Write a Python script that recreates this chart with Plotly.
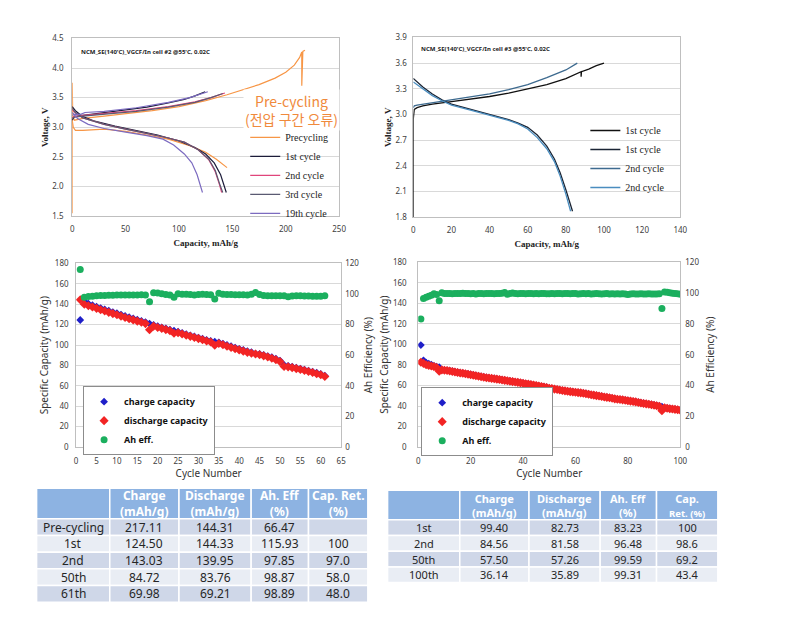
import plotly.graph_objects as go

W, H = 798, 622
def fx(p): return p / W
def fy(p): return 1 - p / H

# ---------------- Chart 1 data (cell #2, voltage profiles) ----------------
pre_chg_cap = [0, 0, 0.5, 2, 10, 30, 50, 75, 100, 125, 145, 160, 175, 190, 200, 208, 213, 215, 215, 216, 218]
pre_chg_v   = [1.55, 3.75, 3.2, 3.12, 3.15, 3.19, 3.23, 3.28, 3.35, 3.45, 3.55, 3.63, 3.72, 3.83, 3.93, 4.05, 4.18, 4.27, 3.7, 4.28, 4.3]
pre_dis_cap = [0, 1, 3, 10, 30, 50, 70, 90, 110, 125, 135, 145]
pre_dis_v   = [3.12, 3.0, 2.95, 2.95, 2.97, 2.93, 2.87, 2.8, 2.69, 2.58, 2.46, 2.32]
c1_chg_cap = [0, 2, 10, 30, 50, 70, 90, 105, 115, 124.5]
c1_chg_v   = [3.12, 3.18, 3.2, 3.25, 3.29, 3.34, 3.41, 3.47, 3.53, 3.6]
c1_dis_cap = [0, 3, 10, 20, 40, 60, 80, 100, 115, 125, 133, 139, 143, 144.3]
c1_dis_v   = [3.35, 3.28, 3.18, 3.11, 3.02, 2.95, 2.87, 2.77, 2.66, 2.55, 2.4, 2.2, 2.0, 1.9]
c2_chg_cap = [0, 2, 10, 30, 60, 90, 115, 130, 143]
c2_chg_v   = [3.16, 3.18, 3.2, 3.23, 3.28, 3.35, 3.43, 3.5, 3.58]
c2_dis_cap = [0, 3, 10, 30, 50, 70, 90, 105, 118, 128, 134, 138, 140]
c2_dis_v   = [3.3, 3.24, 3.16, 3.05, 2.97, 2.9, 2.82, 2.75, 2.62, 2.45, 2.25, 2.03, 1.9]
c3_chg_cap = [0, 2, 10, 30, 60, 90, 115, 130, 141]
c3_chg_v   = [3.15, 3.17, 3.19, 3.22, 3.27, 3.34, 3.42, 3.5, 3.57]
c3_dis_cap = [0, 3, 10, 30, 50, 70, 90, 105, 118, 128, 134, 138, 141]
c3_dis_v   = [3.32, 3.25, 3.16, 3.05, 2.97, 2.9, 2.82, 2.75, 2.62, 2.46, 2.27, 2.05, 1.9]
c19_chg_cap = [0, 2, 8, 12, 30, 60, 90, 110, 127]
c19_chg_v   = [3.2, 3.22, 3.22, 3.25, 3.27, 3.33, 3.42, 3.5, 3.6]
c19_dis_cap = [0, 5, 15, 30, 50, 70, 85, 95, 105, 112, 117, 120, 122]
c19_dis_v   = [3.25, 3.15, 3.05, 2.98, 2.92, 2.86, 2.8, 2.7, 2.55, 2.4, 2.2, 2.02, 1.9]

# ---------------- Chart 2 data (cell #3, voltage profiles) ----------------
a1_chg_cap = [0, 0, 0.5, 2, 5, 10, 20, 30, 40, 50, 60, 70, 80, 88, 88, 88.2, 92, 96, 100]
a1_chg_v   = [1.8, 2.95, 3.06, 3.08, 3.1, 3.12, 3.15, 3.18, 3.21, 3.25, 3.3, 3.35, 3.42, 3.5, 3.44, 3.5, 3.53, 3.57, 3.6]
a1_dis_cap = [0, 2, 5, 10, 15, 20, 30, 40, 50, 55, 60, 65, 70, 74, 77, 80, 82, 83.5]
a1_dis_v   = [3.42, 3.38, 3.32, 3.24, 3.17, 3.12, 3.06, 3.0, 2.94, 2.9, 2.85, 2.76, 2.63, 2.48, 2.32, 2.12, 1.98, 1.87]
a2_chg_cap = [0, 0.5, 2, 5, 10, 20, 30, 40, 50, 60, 70, 80, 86]
a2_chg_v   = [3.08, 3.1, 3.11, 3.12, 3.14, 3.17, 3.2, 3.24, 3.29, 3.35, 3.43, 3.52, 3.6]
a2_dis_cap = [0, 2, 5, 10, 15, 20, 30, 40, 50, 55, 60, 65, 70, 74, 77, 80, 82.5]
a2_dis_v   = [3.38, 3.35, 3.3, 3.22, 3.16, 3.11, 3.05, 2.99, 2.93, 2.89, 2.83, 2.73, 2.6, 2.45, 2.28, 2.07, 1.87]

# ---------------- Chart 3 data (61 cycles) ----------------
cyc61 = list(range(1, 62))
chg61 = [124.5, 143.03, 140.5, 139.0, 137.6, 136.2, 134.9, 133.6, 132.3, 131.1,
         129.8, 128.5, 127.3, 126.0, 124.8, 123.6, 122.5, 121.0, 119.6, 118.5,
         117.3, 116.2, 115.0, 114.0, 113.0, 111.8, 110.6, 109.5, 108.4, 107.3,
         106.2, 105.0, 104.0, 103.2, 102.6, 101.3, 100.0, 98.8, 97.5, 96.3,
         95.1, 94.0, 93.0, 91.5, 91.3, 90.3, 89.2, 88.0, 86.6, 84.72,
         80.5, 79.6, 78.7, 77.8, 76.9, 75.9, 74.9, 73.9, 72.8, 71.7, 69.98]
dis61 = [144.31, 139.95, 138.5, 137.2, 135.9, 134.6, 133.3, 132.0, 130.8, 129.6,
         128.3, 127.0, 125.8, 124.6, 123.4, 122.3, 121.0, 115.0, 118.5, 117.2,
         116.3, 115.1, 114.0, 111.5, 112.0, 110.8, 109.6, 108.5, 107.3, 106.3,
         105.2, 104.0, 103.0, 99.8, 101.5, 100.2, 98.8, 97.6, 96.4, 95.2,
         94.0, 92.8, 92.0, 91.2, 90.4, 89.4, 88.3, 87.0, 85.6, 83.76,
         79.0, 78.6, 77.8, 76.9, 76.0, 75.0, 74.0, 73.0, 71.9, 70.8, 69.21]
eff61 = [115.93, 97.85, 98.3, 98.6, 98.8, 99.0, 99.0, 99.1, 99.2, 99.3,
         99.3, 99.3, 99.4, 99.4, 99.4, 99.5, 99.3, 95.0, 100.8, 100.6,
         100.2, 99.6, 99.4, 97.9, 100.2, 99.9, 99.8, 99.6, 99.3, 99.6,
         99.8, 99.7, 99.5, 96.8, 100.5, 99.8, 99.6, 99.6, 99.5, 99.5,
         99.5, 99.4, 99.8, 101.0, 99.6, 99.0, 98.9, 98.9, 98.8, 98.87,
         98.8, 98.2, 98.7, 98.8, 98.8, 98.7, 98.7, 98.6, 98.6, 98.6, 98.89]

# ---------------- Chart 4 data (100 cycles) ----------------
cyc100 = list(range(1, 101))
chg100 = [99.40, 84.56, 82.3, 81.2, 80.3, 79.0, 78.4, 77.8, 75.3, 75.0,
          74.8, 74.4, 73.9, 73.4, 72.9, 72.4, 72.1, 71.6, 71.2, 70.8,
          70.3, 69.8, 69.3, 68.8, 68.3, 67.9, 67.5, 67.1, 66.8, 66.4,
          66.0, 65.6, 65.1, 64.8, 64.4, 64.0, 63.6, 63.2, 62.8, 62.4,
          61.9, 61.5, 61.1, 60.6, 60.2, 59.7, 59.2, 58.8, 58.3, 57.50,
          57.2, 56.7, 56.3, 55.8, 55.3, 55.0, 54.6, 54.2, 53.9, 53.6,
          53.3, 53.0, 52.6, 52.2, 51.7, 51.2, 50.8, 50.3, 49.9, 49.5,
          49.0, 48.6, 48.2, 47.7, 47.2, 46.8, 46.5, 46.2, 45.8, 45.4,
          45.0, 44.6, 44.2, 43.7, 43.2, 42.7, 42.3, 41.9, 41.5, 41.0,
          40.5, 40.0, 39.4, 38.0, 38.0, 37.6, 37.3, 36.9, 36.5, 36.14]
dis100 = [82.73, 81.58, 80.2, 79.6, 79.0, 78.4, 77.6, 74.0, 75.2, 74.9,
          74.6, 74.2, 73.7, 73.1, 72.6, 72.2, 71.9, 71.4, 71.0, 70.5,
          70.0, 69.5, 69.0, 68.5, 68.1, 67.6, 67.3, 66.9, 66.6, 66.2,
          65.8, 65.4, 65.0, 64.6, 64.2, 63.8, 63.4, 63.0, 62.6, 62.2,
          61.7, 61.3, 60.9, 60.4, 60.0, 59.5, 59.0, 58.6, 58.0, 57.26,
          57.0, 56.5, 56.1, 55.6, 55.1, 54.8, 54.4, 54.0, 53.7, 53.4,
          53.1, 52.8, 52.4, 52.0, 51.5, 51.0, 50.6, 50.1, 49.7, 49.3,
          48.8, 48.4, 48.0, 47.5, 47.0, 46.6, 46.3, 46.0, 45.6, 45.2,
          44.8, 44.4, 44.0, 43.5, 43.0, 42.5, 42.1, 41.7, 41.3, 40.8,
          40.3, 39.8, 35.5, 38.3, 37.8, 37.4, 37.1, 36.7, 36.3, 35.89]
eff100 = [83.23, 96.48, 97.4, 98.0, 98.6, 99.6, 99.2, 95.0, 100.3, 99.8,
          99.7, 99.8, 99.6, 99.7, 99.8, 99.8, 99.9, 99.7, 99.8, 99.6,
          99.7, 99.5, 99.8, 99.7, 99.6, 99.8, 99.7, 99.8, 99.6, 99.7,
          99.8, 99.9, 100.4, 99.3, 99.8, 100.1, 99.7, 99.6, 99.8, 99.7,
          99.6, 99.7, 99.8, 99.6, 99.7, 99.6, 99.7, 99.8, 99.6, 99.59,
          99.7, 99.6, 99.7, 99.8, 99.6, 99.7, 99.8, 99.6, 99.7, 99.8,
          99.5, 99.6, 99.7, 99.6, 99.7, 99.5, 99.6, 99.7, 99.6, 99.5,
          99.6, 99.7, 99.4, 99.6, 99.5, 99.6, 99.4, 99.6, 99.5, 99.1,
          99.5, 99.6, 99.4, 99.5, 99.6, 99.4, 99.5, 99.6, 99.5, 99.4,
          99.5, 99.6, 90.0, 100.8, 100.6, 100.3, 100.0, 99.8, 99.6, 99.31]

# ---------------- Tables ----------------
t1_header = ["", "Charge<br>(mAh/g)", "Discharge<br>(mAh/g)", "Ah. Eff<br>(%)", "Cap. Ret.<br>(%)"]
t1_rows = ["Pre-cycling", "1st", "2nd", "50th", "61th"]
t1_charge = ["217.11", "124.50", "143.03", "84.72", "69.98"]
t1_discharge = ["144.31", "144.33", "139.95", "83.76", "69.21"]
t1_eff = ["66.47", "115.93", "97.85", "98.87", "98.89"]
t1_ret = ["", "100", "97.0", "58.0", "48.0"]

t2_header = ["", "Charge<br>(mAh/g)", "Discharge<br>(mAh/g)", "Ah. Eff<br>(%)",
             "Cap.<br><span style='font-size:9.5px'>Ret. (%)</span>"]
t2_rows = ["1st", "2nd", "50th", "100th"]
t2_charge = ["99.40", "84.56", "57.50", "36.14"]
t2_discharge = ["82.73", "81.58", "57.26", "35.89"]
t2_eff = ["83.23", "96.48", "99.59", "99.31"]
t2_ret = ["100", "98.6", "69.2", "43.4"]

SERIF = "Liberation Serif, Times New Roman, serif"
SANS = "Noto Sans, Open Sans, sans-serif"
KR = "Noto Sans CJK KR, Noto Sans, sans-serif"
GRID = "#D9D9D9"
FRAME = "#BFBFBF"
TICKC = "#404040"

fig = go.Figure()

def cat(a, b):
    return a + [None] + b

# Chart 1 traces
c1_series = [
    ("Precycling", pre_chg_cap, pre_chg_v, pre_dis_cap, pre_dis_v, "#F79646"),
    ("1st cycle", c1_chg_cap, c1_chg_v, c1_dis_cap, c1_dis_v, "#1C1C3A"),
    ("2nd cycle", c2_chg_cap, c2_chg_v, c2_dis_cap, c2_dis_v, "#E0457B"),
    ("3rd cycle", c3_chg_cap, c3_chg_v, c3_dis_cap, c3_dis_v, "#5A5A72"),
    ("19th cycle", c19_chg_cap, c19_chg_v, c19_dis_cap, c19_dis_v, "#7C6BC0"),
]
for name, xc, yc, xd, yd, col in c1_series:
    fig.add_trace(go.Scatter(x=cat(xc, xd), y=cat(yc, yd), mode="lines", name=name,
                             line=dict(color=col, width=1.2), xaxis="x", yaxis="y",
                             legend="legend", connectgaps=False))

# Chart 2 traces
c2_series = [
    ("1st cycle", a1_chg_cap, a1_chg_v, "#111111"),
    ("1st cycle", a1_dis_cap, a1_dis_v, "#1B2535"),
    ("2nd cycle", a2_chg_cap, a2_chg_v, "#3D6A8F"),
    ("2nd cycle", a2_dis_cap, a2_dis_v, "#4A8DBF"),
]
for name, xs, ys, col in c2_series:
    fig.add_trace(go.Scatter(x=xs, y=ys, mode="lines", name=name,
                             line=dict(color=col, width=1.3), xaxis="x2", yaxis="y2",
                             legend="legend2"))

# Chart 3 traces
BLUE, RED, GREEN = "#1F1FC8", "#F22424", "#1BAF5E"
fig.add_trace(go.Scatter(x=cyc61, y=chg61, mode="markers", name="charge capacity",
                         marker=dict(symbol="diamond", size=6, color=BLUE),
                         xaxis="x3", yaxis="y3", legend="legend3"))
fig.add_trace(go.Scatter(x=cyc61, y=dis61, mode="markers", name="discharge capacity",
                         marker=dict(symbol="diamond", size=7, color=RED),
                         xaxis="x3", yaxis="y3", legend="legend3"))
fig.add_trace(go.Scatter(x=cyc61, y=eff61, mode="markers", name="Ah eff.",
                         marker=dict(symbol="circle", size=7, color=GREEN),
                         xaxis="x3", yaxis="y4", legend="legend3"))

# Chart 4 traces
fig.add_trace(go.Scatter(x=cyc100, y=chg100, mode="markers", name="charge capacity",
                         marker=dict(symbol="diamond", size=6, color=BLUE),
                         xaxis="x4", yaxis="y5", legend="legend4"))
fig.add_trace(go.Scatter(x=cyc100, y=dis100, mode="markers", name="discharge capacity",
                         marker=dict(symbol="diamond", size=7, color=RED),
                         xaxis="x4", yaxis="y5", legend="legend4"))
fig.add_trace(go.Scatter(x=cyc100, y=eff100, mode="markers", name="Ah eff.",
                         marker=dict(symbol="circle", size=7, color=GREEN),
                         xaxis="x4", yaxis="y6", legend="legend4"))

# ---------------- Tables (layout shapes + text annotations) ----------------
HDR = "#8DB3E2"
ROW_A, ROW_B = "#CFD7E8", "#E9EDF4"
shapes, annotations = [], []

def draw_table(x0, y0, col_w, hdr_h, row_h, header, columns, hdr_size, body_size):
    xs = [x0]
    for w in col_w:
        xs.append(xs[-1] + w)
    for j in range(len(col_w)):
        shapes.append(dict(type="rect", xref="paper", yref="paper",
                           x0=fx(xs[j]), x1=fx(xs[j + 1]), y0=fy(y0 + hdr_h), y1=fy(y0),
                           fillcolor=HDR, line=dict(color="white", width=1.5), layer="below"))
        if header[j]:
            annotations.append(dict(text="<b>%s</b>" % header[j], xref="paper", yref="paper",
                                    x=fx((xs[j] + xs[j + 1]) / 2), y=fy(y0 + hdr_h / 2),
                                    xanchor="center", yanchor="middle", showarrow=False,
                                    borderpad=0,
                                    font=dict(size=hdr_size, family=SANS, color="white")))
    nrows = len(columns[0])
    for i in range(nrows):
        top = y0 + hdr_h + i * row_h
        fill = ROW_A if i % 2 == 0 else ROW_B
        for j in range(len(col_w)):
            shapes.append(dict(type="rect", xref="paper", yref="paper",
                               x0=fx(xs[j]), x1=fx(xs[j + 1]), y0=fy(top + row_h), y1=fy(top),
                               fillcolor=fill, line=dict(color="white", width=1.5), layer="below"))
            txt = columns[j][i]
            if txt:
                annotations.append(dict(text=txt, xref="paper", yref="paper",
                                        x=fx((xs[j] + xs[j + 1]) / 2), y=fy(top + row_h / 2),
                                        xanchor="center", yanchor="middle", showarrow=False,
                                        borderpad=0,
                                        font=dict(size=body_size, family=SANS, color="#262626")))

draw_table(35, 491, [74, 70, 73, 58, 60], 31, 17, t1_header,
           [t1_rows, t1_charge, t1_discharge, t1_eff, t1_ret], 12, 12)
draw_table(390, 493, [73, 70, 72, 57, 62], 30, 16, t2_header,
           [t2_rows, t2_charge, t2_discharge, t2_eff, t2_ret], 11, 11)

tickfont = dict(size=8, color=TICKC, family=SANS)
TOPTITLE = dict(family=SERIF, size=9, color="#222", weight="bold")
BOTTITLE = dict(family=SANS, size=10, color="#333")

def frame_axis(**kw):
    base = dict(showline=True, linecolor=FRAME, linewidth=1, mirror=True, ticks="",
                tickfont=tickfont, zeroline=False)
    base.update(kw)
    return base

annotations += [
    dict(text="<b>NCM_SE(140'C)_VGCF/In cell #2 @55'C, 0.02C</b>", xref="paper", yref="paper",
         x=fx(78), y=fy(47), xanchor="left", yanchor="middle", showarrow=False,
         font=dict(size=6, family=SANS, color="#222")),
    dict(text="<b>NCM_SE(140'C)_VGCF/In cell #3 @55'C, 0.02C</b>", xref="paper", yref="paper",
         x=fx(422), y=fy(44), xanchor="left", yanchor="middle", showarrow=False,
         font=dict(size=6, family=SANS, color="#222")),
    dict(text="Pre-cycling<br>(전압 구간 오류)", xref="paper", yref="paper",
         x=fx(293), y=fy(106), xanchor="center", yanchor="middle", showarrow=False,
         bgcolor="white", font=dict(size=14, family=KR, color="#F08A3C")),
]

fig.update_layout(
    width=W, height=H, margin=dict(l=0, r=0, t=0, b=0),
    paper_bgcolor="white", plot_bgcolor="white",
    xaxis=frame_axis(domain=[fx(71), fx(341)], anchor="y", range=[0, 250], dtick=50,
                     showgrid=False, ticklabelstandoff=5,
                     title=dict(text="Capacity, mAh/g", font=TOPTITLE, standoff=6)),
    yaxis=frame_axis(domain=[fy(214), fy(33)], anchor="x", range=[1.5, 4.5], dtick=0.5,
                     tickformat=".1f", showgrid=True, gridcolor=GRID, ticklabelstandoff=6,
                     title=dict(text="Voltage, V", font=TOPTITLE, standoff=2)),
    xaxis2=frame_axis(domain=[fx(416), fx(686)], anchor="y2", range=[0, 140], dtick=20,
                      showgrid=False, ticklabelstandoff=5,
                      title=dict(text="Capacity, mAh/g", font=TOPTITLE, standoff=6)),
    yaxis2=frame_axis(domain=[fy(215), fy(32)], anchor="x2", range=[1.8, 3.9], dtick=0.3,
                      tickformat=".1f", showgrid=True, gridcolor=GRID, ticklabelstandoff=4,
                      title=dict(text="Voltage, V", font=TOPTITLE, standoff=2)),
    xaxis3=frame_axis(domain=[fx(75), fx(343)], anchor="y3", range=[0, 65], dtick=5,
                      showgrid=False, ticklabelstandoff=6,
                      title=dict(text="Cycle Number", font=BOTTITLE, standoff=4)),
    yaxis3=frame_axis(domain=[fy(449), fy(262)], anchor="x3", range=[0, 180], dtick=20,
                      showgrid=True, gridcolor=GRID, ticklabelstandoff=5,
                      title=dict(text="Specific Capacity (mAh/g)", font=BOTTITLE, standoff=4)),
    yaxis4=dict(overlaying="y3", anchor="x3", side="right", range=[0, 120], dtick=20,
                showgrid=False, zeroline=False, showline=False, tickfont=tickfont,
                ticklabelstandoff=3,
                title=dict(text="Ah Efficiency (%)", font=BOTTITLE, standoff=6)),
    xaxis4=frame_axis(domain=[fx(421), fx(686)], anchor="y5", range=[0, 100], dtick=20,
                      showgrid=False, ticklabelstandoff=6,
                      title=dict(text="Cycle Number", font=BOTTITLE, standoff=4)),
    yaxis5=frame_axis(domain=[fy(449), fy(261)], anchor="x4", range=[0, 180], dtick=20,
                      showgrid=True, gridcolor=GRID, ticklabelstandoff=9,
                      title=dict(text="Specific Capacity (mAh/g)", font=BOTTITLE, standoff=2)),
    yaxis6=dict(overlaying="y5", anchor="x4", side="right", range=[0, 120], dtick=20,
                showgrid=False, zeroline=False, showline=False, tickfont=tickfont,
                ticklabelstandoff=4,
                title=dict(text="Ah Efficiency (%)", font=BOTTITLE, standoff=8)),
    legend=dict(x=fx(246), y=fy(119), xanchor="left", yanchor="top", bgcolor="rgba(0,0,0,0)",
                font=dict(family=SERIF, size=10, color="#222"), itemwidth=30, tracegroupgap=0),
    legend2=dict(x=fx(590), y=fy(112), xanchor="left", yanchor="top", bgcolor="rgba(0,0,0,0)",
                 font=dict(family=SERIF, size=10, color="#222"), itemwidth=30, tracegroupgap=0),
    legend3=dict(x=fx(82), y=fy(387), xanchor="left", yanchor="top", bgcolor="white",
                 bordercolor="#8C8C8C", borderwidth=1,
                 font=dict(family=SANS, size=9, color="#111", weight="bold"), itemwidth=30, tracegroupgap=0),
    legend4=dict(x=fx(424), y=fy(388), xanchor="left", yanchor="top", bgcolor="white",
                 bordercolor="#8C8C8C", borderwidth=1,
                 font=dict(family=SANS, size=9, color="#111", weight="bold"), itemwidth=30, tracegroupgap=0),
    showlegend=True,
    shapes=shapes,
    annotations=annotations,
)

fig.write_html("out.html")
